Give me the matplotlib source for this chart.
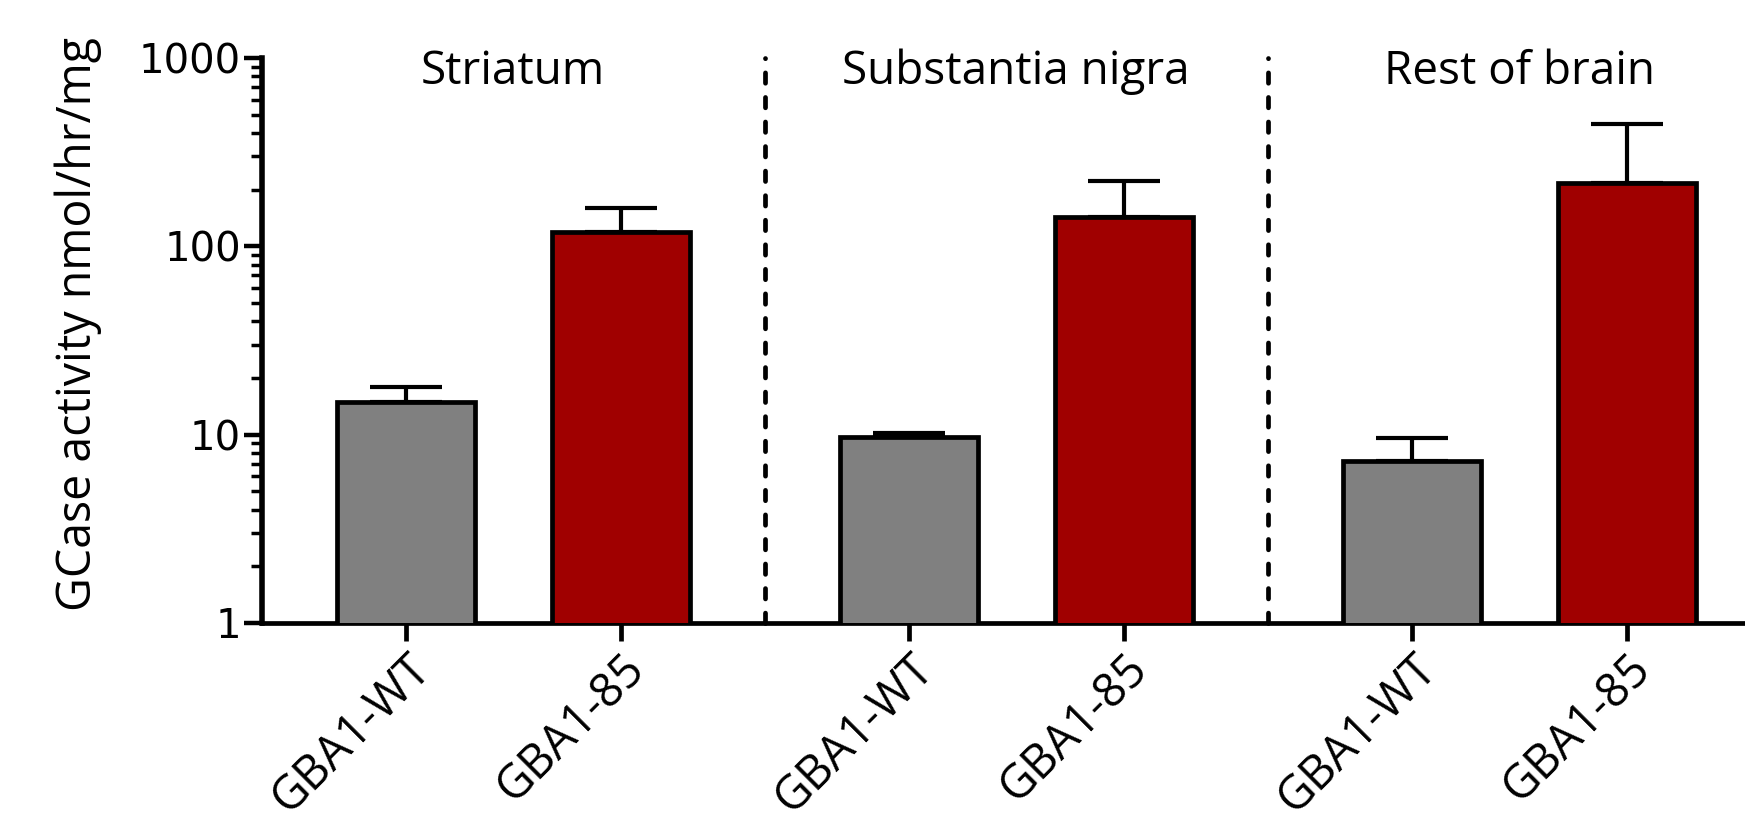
"""
GCase activity per brain region, GBA1-WT vs GBA1-85 (log scale bar chart).
usage: python plot.py
"""

import matplotlib.pyplot as plt
from matplotlib.ticker import LogLocator, FixedLocator, NullFormatter
import numpy as np

# Data
regions = ['Striatum', 'Substantia nigra', 'Rest of brain']
genotypes = ['GBA1-WT', 'GBA1-85']
means = [14.9, 119, 9.7, 143, 7.25, 217]
err_up = [3.0, 41, 0.5, 79, 2.35, 230]
colors = ['#808080', '#A00000']

# Bar positions: two bars per region, wider gap between regions
gap = 1.34
pos = []
for g in range(len(regions)):
    for b in range(len(genotypes)):
        pos.append(g * (1 + gap) + b)
pos = np.array(pos)

fig = plt.figure(figsize=(17.45, 8.27), dpi=100)
ax = fig.add_axes([0.150, 0.2467, 0.850, 0.6832])

bar_colors = [colors[i % 2] for i in range(len(pos))]
ax.bar(pos, means, width=0.64, color=bar_colors, edgecolor='black',
       linewidth=3.4, zorder=3)
ax.errorbar(pos, means, yerr=[np.zeros(len(means)), err_up], fmt='none',
            ecolor='black', elinewidth=3.0, capsize=26, capthick=3.0, zorder=2)

ax.set_yscale('log')
ax.set_ylim(1, 1000)
ax.set_xlim(-0.67, pos[-1] + 0.55)

# Dashed separators and region titles
for g in range(len(regions) - 1):
    xs = (pos[2 * g + 1] + pos[2 * g + 2]) / 2
    ax.plot([xs, xs], [1, 1000], color='black', lw=3.4,
            linestyle=(0, (2.2, 3.0)), dash_capstyle='round', zorder=1,
            clip_on=False)
for g, name in enumerate(regions):
    xc = (pos[2 * g] + pos[2 * g + 1]) / 2
    ax.text(xc, 0.975, name, transform=ax.get_xaxis_transform(),
            ha='center', va='center', fontsize=33, family='Open Sans')

# Axes styling
for s in ['top', 'right']:
    ax.spines[s].set_visible(False)
ax.spines['left'].set_linewidth(4.0)
ax.spines['bottom'].set_linewidth(3.4)

ax.yaxis.set_major_locator(FixedLocator([1, 10, 100, 1000]))
ax.yaxis.set_minor_locator(LogLocator(base=10, subs=np.arange(2, 10)))
ax.yaxis.set_minor_formatter(NullFormatter())
ax.set_yticklabels(['1', '10', '100', '1000'], fontsize=29)
ax.tick_params(axis='y', which='major', length=13, width=3.2, pad=2)
ax.tick_params(axis='y', which='minor', length=8, width=2.5)

ax.set_xticks(pos)
ax.set_xticklabels(genotypes * len(regions), rotation=45, ha='right',
                   rotation_mode='anchor', fontsize=33.5, family='Open Sans')
ax.tick_params(axis='x', length=13, width=3.4, pad=3)

ax.set_ylabel('GCase activity nmol/hr/mg', fontsize=33.5, family='Open Sans')
ax.yaxis.set_label_coords(-0.108, 0.53)

plt.savefig('out.png', dpi=100)
